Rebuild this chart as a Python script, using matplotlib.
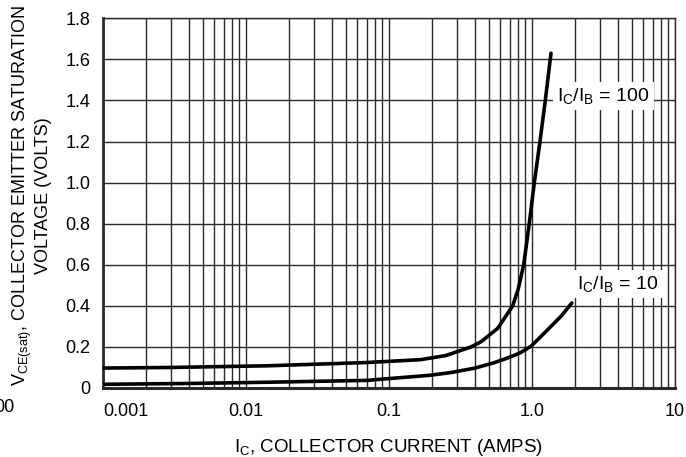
import numpy as np
import matplotlib
matplotlib.use("Agg")
import matplotlib.pyplot as plt
from matplotlib.ticker import FixedLocator, NullFormatter

plt.rcParams["font.family"] = ["Liberation Sans", "DejaVu Sans"]
plt.rcParams["mathtext.fontset"] = "custom"
plt.rcParams["mathtext.rm"] = "Liberation Sans"
plt.rcParams["mathtext.it"] = "Liberation Sans"

# collector current (A) and V_CE(sat) (V)
ic_100 = [0.001, 0.003, 0.014, 0.07, 0.167, 0.25, 0.375, 0.44, 0.575, 0.733,
          0.80, 0.875, 0.957, 1.038, 1.137, 1.239, 1.358]
vce_100 = [0.097, 0.100, 0.108, 0.124, 0.138, 0.158, 0.20, 0.225, 0.29, 0.40,
           0.48, 0.60, 0.80, 1.0, 1.2, 1.4, 1.63]

ic_10 = [0.001, 0.004, 0.014, 0.07, 0.194, 0.27, 0.4, 0.543, 0.676, 0.82,
         0.984, 1.156, 1.358, 1.595, 1.9]
vce_10 = [0.018, 0.022, 0.028, 0.037, 0.062, 0.075, 0.097, 0.123, 0.146, 0.17,
          0.203, 0.251, 0.300, 0.349, 0.414]

x_ticks = [0.001, 0.01, 0.1, 1.0, 10]
x_tick_labels = ["0.001", "0.01", "0.1", "1.0", "10"]
y_ticks = [0, 0.2, 0.4, 0.6, 0.8, 1.0, 1.2, 1.4, 1.6, 1.8]
y_tick_labels = ["0", "0.2", "0.4", "0.6", "0.8", "1.0", "1.2", "1.4", "1.6", "1.8"]

fig = plt.figure(figsize=(6.86, 4.57), dpi=100)
ax = fig.add_axes([0.150, 0.151, 0.834, 0.809])

ax.set_xscale("log")
ax.set_xlim(0.001, 10)
ax.set_ylim(0, 1.8)

ax.set_xticks(x_ticks)
ax.set_xticklabels(x_tick_labels)
ax.set_yticks(y_ticks)
ax.set_yticklabels(y_tick_labels)
minors = [m * 10.0 ** e for e in range(-3, 1) for m in range(2, 10)]
ax.xaxis.set_minor_locator(FixedLocator(minors))
ax.xaxis.set_minor_formatter(NullFormatter())

ax.tick_params(which="both", length=0, labelsize=13)
ax.tick_params(axis="x", pad=11)
ax.tick_params(axis="y", pad=9)
ax.xaxis.get_majorticklabels()[0].set_horizontalalignment("left")

ax.grid(True, which="both", axis="x", color="#2a2a2a", linewidth=1.0)
ax.grid(True, which="major", axis="y", color="#2a2a2a", linewidth=1.0)

for s in ax.spines.values():
    s.set_color("#2a2a2a")
    s.set_linewidth(1.0)
ax.spines["left"].set_linewidth(2.0)
ax.spines["bottom"].set_linewidth(2.2)

ax.plot(ic_100, vce_100, color="black", linewidth=2.6, solid_capstyle="round",
        solid_joinstyle="round", zorder=3)
ax.plot(ic_10, vce_10, color="black", linewidth=2.6, solid_capstyle="round",
        solid_joinstyle="round", zorder=3)

box = dict(facecolor="white", edgecolor="none", pad=3)
ax.text(1.50, 1.42, r"I$_\mathregular{C}$/I$_\mathregular{B}$ = 100", fontsize=14,
        ha="left", va="center", bbox=box, zorder=4)
ax.text(2.06, 0.507, r"I$_\mathregular{C}$/I$_\mathregular{B}$ = 10", fontsize=14,
        ha="left", va="center", bbox=box, zorder=4)

ax.set_xlabel(r"I$_\mathregular{C}$, COLLECTOR CURRENT (AMPS)", fontsize=13.5, labelpad=12)
ax.set_ylabel("V$_\\mathregular{CE(sat)}$, COLLECTOR EMITTER SATURATION\nVOLTAGE (VOLTS)",
              fontsize=13, linespacing=1.05)
ax.yaxis.set_label_coords(-0.089, 0.52)

# cut-off label from a neighbouring chart at the left edge
fig.text(-0.008, 1 - 408 / 457, "00", fontsize=13, ha="left", va="center")

fig.savefig("out.png", dpi=100)
